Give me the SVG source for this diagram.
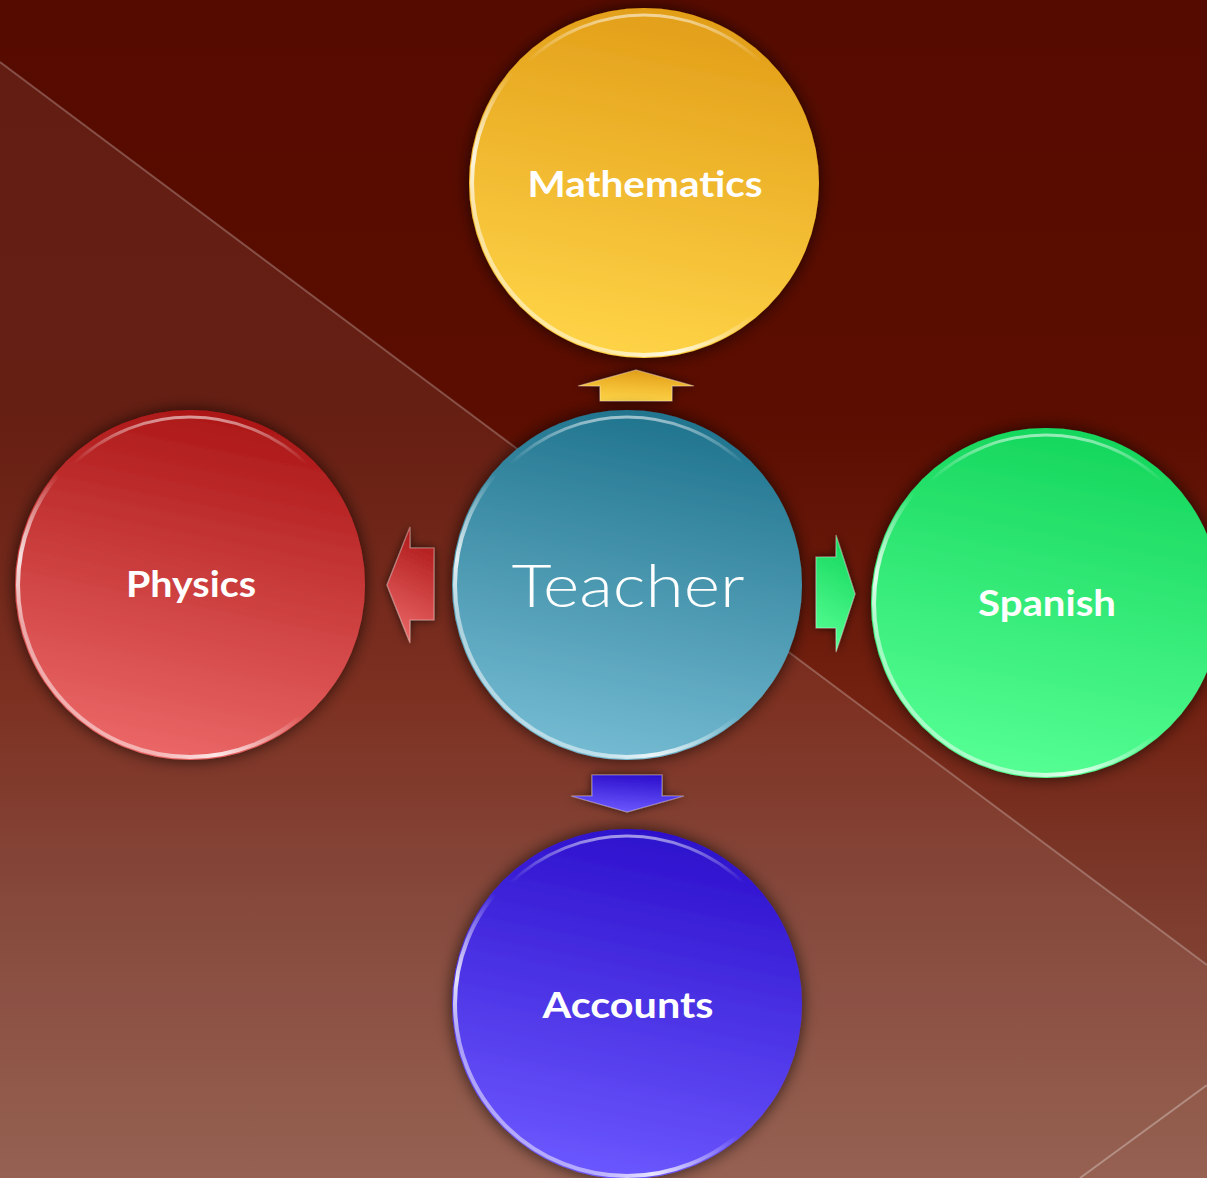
<svg xmlns="http://www.w3.org/2000/svg" width="1207" height="1178" viewBox="0 0 1207 1178">
<defs>
<linearGradient id="bg" x1="0" y1="0" x2="0" y2="1">
<stop offset="0" stop-color="#560b00"/>
<stop offset="0.35" stop-color="#5a0d00"/>
<stop offset="0.59" stop-color="#72200f"/>
<stop offset="0.76" stop-color="#7c3a2c"/>
<stop offset="1" stop-color="#8e5544"/>
</linearGradient>
<linearGradient id="gY" x1="0.6" y1="0" x2="0.4" y2="1"><stop offset="0" stop-color="#e29e18"/><stop offset="1" stop-color="#ffd447"/></linearGradient>
<linearGradient id="gB" x1="0.6" y1="0" x2="0.4" y2="1"><stop offset="0" stop-color="#1f738d"/><stop offset="1" stop-color="#75bcd3"/></linearGradient>
<linearGradient id="gR" x1="0.6" y1="0" x2="0.4" y2="1"><stop offset="0" stop-color="#ac1616"/><stop offset="1" stop-color="#ec6868"/></linearGradient>
<linearGradient id="gG" x1="0.6" y1="0" x2="0.4" y2="1"><stop offset="0" stop-color="#14d65c"/><stop offset="1" stop-color="#56ff94"/></linearGradient>
<linearGradient id="gP" x1="0.6" y1="0" x2="0.4" y2="1"><stop offset="0" stop-color="#2c10cc"/><stop offset="1" stop-color="#6c58ff"/></linearGradient>
<linearGradient id="rim" x1="0.8" y1="0.2" x2="0.2" y2="0.8">
<stop offset="0" stop-color="#ffffff" stop-opacity="0"/>
<stop offset="0.55" stop-color="#ffffff" stop-opacity="0"/>
<stop offset="0.85" stop-color="#ffffff" stop-opacity="0.85"/>
<stop offset="1" stop-color="#ffffff" stop-opacity="0.5"/>
</linearGradient>
<linearGradient id="toprim" x1="0" y1="0" x2="0" y2="1">
<stop offset="0" stop-color="#ffffff" stop-opacity="0.55"/>
<stop offset="0.14" stop-color="#ffffff" stop-opacity="0"/>
</linearGradient>
<filter id="sh" x="-20%" y="-20%" width="140%" height="140%">
<feDropShadow dx="0" dy="0" stdDeviation="8" flood-color="#000" flood-opacity="0.7"/>
</filter>
<filter id="sh2" x="-30%" y="-30%" width="160%" height="160%">
<feDropShadow dx="0" dy="0" stdDeviation="5" flood-color="#000" flood-opacity="0.7"/>
</filter>
</defs>
<style>
.lbl{font-family:"Lato","Liberation Sans",sans-serif;font-weight:bold;font-size:36px;fill:#ffffff;text-anchor:middle}
.big{font-family:"Lato","Open Sans",sans-serif;font-weight:300;font-size:60px;fill:#ffffff;text-anchor:middle}
.rim{fill:none;stroke:url(#rim);stroke-width:4}
.top{fill:none;stroke:url(#toprim);stroke-width:3}
.arr{stroke:#ffffff;stroke-opacity:0.35;stroke-width:1.2;filter:url(#sh2)}
</style>
<rect x="0" y="0" width="1207" height="1178" fill="url(#bg)"/>
<polygon points="0,62 1207,965 1207,1178 0,1178" fill="#ffffff" fill-opacity="0.075"/>
<line x1="0" y1="62" x2="1207" y2="965" stroke="#ffffff" stroke-opacity="0.25" stroke-width="2"/>
<line x1="1080" y1="1178" x2="1207" y2="1085" stroke="#ffffff" stroke-opacity="0.3" stroke-width="2"/>

<g id="connectors">
<polygon class="arr" fill="url(#gY)" points="636,370 694,386 672,386 672,401 600,401 600,386 578,386"/>
<polygon class="arr" fill="url(#gR)" points="387,585 410,527 410,548 434,548 434,620 410,620 410,643"/>
<polygon class="arr" fill="url(#gG)" points="855,594 836,535 836,557 816,557 816,628 836,628 836,652"/>
<polygon class="arr" fill="url(#gP)" points="627,812 684,796 662,796 662,775 592,775 592,796 571,796"/>
</g>

<g id="mathematics">
<circle cx="644" cy="183" r="175" fill="url(#gY)" filter="url(#sh)"/>
<circle cx="644" cy="183" r="168" class="top"/>
<circle cx="644" cy="183" r="172" class="rim"/>
<text class="lbl" x="645" y="197" textLength="235" lengthAdjust="spacingAndGlyphs">Mathematics</text>
</g>
<g id="teacher">
<circle cx="627" cy="585" r="175" fill="url(#gB)" filter="url(#sh)"/>
<circle cx="627" cy="585" r="168" class="top"/>
<circle cx="627" cy="585" r="172" class="rim"/>
<text class="big" x="628" y="607" textLength="233" lengthAdjust="spacingAndGlyphs">Teacher</text>
</g>
<g id="physics">
<circle cx="190" cy="585" r="175" fill="url(#gR)" filter="url(#sh)"/>
<circle cx="190" cy="585" r="168" class="top"/>
<circle cx="190" cy="585" r="172" class="rim"/>
<text class="lbl" x="191" y="597" textLength="130" lengthAdjust="spacingAndGlyphs">Physics</text>
</g>
<g id="spanish">
<circle cx="1046" cy="603" r="175" fill="url(#gG)" filter="url(#sh)"/>
<circle cx="1046" cy="603" r="168" class="top"/>
<circle cx="1046" cy="603" r="172" class="rim"/>
<text class="lbl" x="1047" y="616" textLength="138" lengthAdjust="spacingAndGlyphs">Spanish</text>
</g>
<g id="accounts">
<circle cx="627" cy="1004" r="175" fill="url(#gP)" filter="url(#sh)"/>
<circle cx="627" cy="1004" r="168" class="top"/>
<circle cx="627" cy="1004" r="172" class="rim"/>
<text class="lbl" x="628" y="1018" textLength="171" lengthAdjust="spacingAndGlyphs">Accounts</text>
</g>
</svg>
